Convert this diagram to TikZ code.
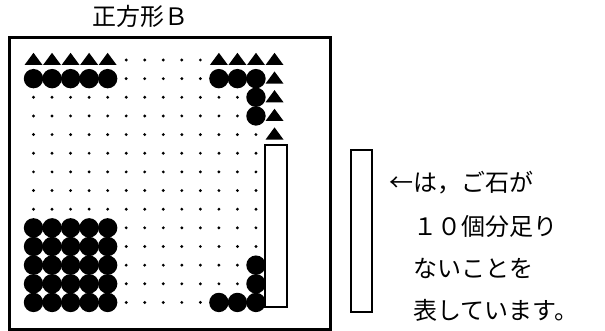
\documentclass[tikz,border=0pt]{standalone}
\usepackage{fontspec}
\newfontfamily\jp{Noto Sans CJK JP}
\begin{document}
\begin{tikzpicture}[x=1pt,y=-1pt,
  jptext/.style={font=\jp\fontsize{24}{30}\selectfont, inner sep=0pt, anchor=base west},
  frame/.style={draw=black, line width=2.5pt},
  blank/.style={draw=black, line width=2pt, fill=white},
  circ/.pic={\fill[black] (0,0) circle[radius=9.7];},
  tri/.pic={\fill[black] (0,-7.2) -- (9,5) -- (-9,5) -- cycle;},
  dotp/.pic={\fill[black] (0,0) circle[radius=1.6];}]
\useasboundingbox (0,0) rectangle (605,331);
\def\X#1{{33.5+(#1-1)*18.54}}
\def\Y#1{{60+(#1-1)*18.65}}
% title
\node[jptext] (title) at (92,25.5) {正方形Ｂ};
% outer frame
\draw[frame] (9.5,37.5) rectangle (330.5,329.5);
% triangles
\foreach \c in {1,...,5,11,12,13,14} \pic at (\X{\c},\Y{1}) {tri};
\foreach \r in {2,...,5} \pic at (\X{14},\Y{\r}) {tri};
% dots
\foreach \r in {1,2} \foreach \c in {6,...,10} \pic at (\X{\c},\Y{\r}) {dotp};
\foreach \r in {3,4} \foreach \c in {1,...,12} \pic at (\X{\c},\Y{\r}) {dotp};
\foreach \r in {5,...,9} \foreach \c in {1,...,13} \pic at (\X{\c},\Y{\r}) {dotp};
\foreach \r in {10,11} \foreach \c in {6,...,13} \pic at (\X{\c},\Y{\r}) {dotp};
\foreach \r in {12,13} \foreach \c in {6,...,12} \pic at (\X{\c},\Y{\r}) {dotp};
\foreach \c in {6,...,10} \pic at (\X{\c},\Y{14}) {dotp};
% circles
\foreach \c in {1,...,5,11,12,13} \pic at (\X{\c},\Y{2}) {circ};
\foreach \r in {3,4,12,13} \pic at (\X{13},\Y{\r}) {circ};
\foreach \r in {10,...,14} \foreach \c in {1,...,5} \pic at (\X{\c},\Y{\r}) {circ};
\foreach \c in {11,12,13} \pic at (\X{\c},\Y{14}) {circ};
% missing-stones rectangle
\draw[blank] (265,145.5) rectangle (286.5,306.5);
% legend
\draw[blank] (351,150.5) rectangle (371.5,312);
\node[jptext] (l1) at (389,191.5) {←は，ご石が};
\node[jptext] (l2) at (389,235.5) {　１０個分足り};
\node[jptext] (l3) at (389,277.5) {　ないことを};
\node[jptext] (l4) at (389,319.5) {　表しています。};
\end{tikzpicture}
\end{document}
